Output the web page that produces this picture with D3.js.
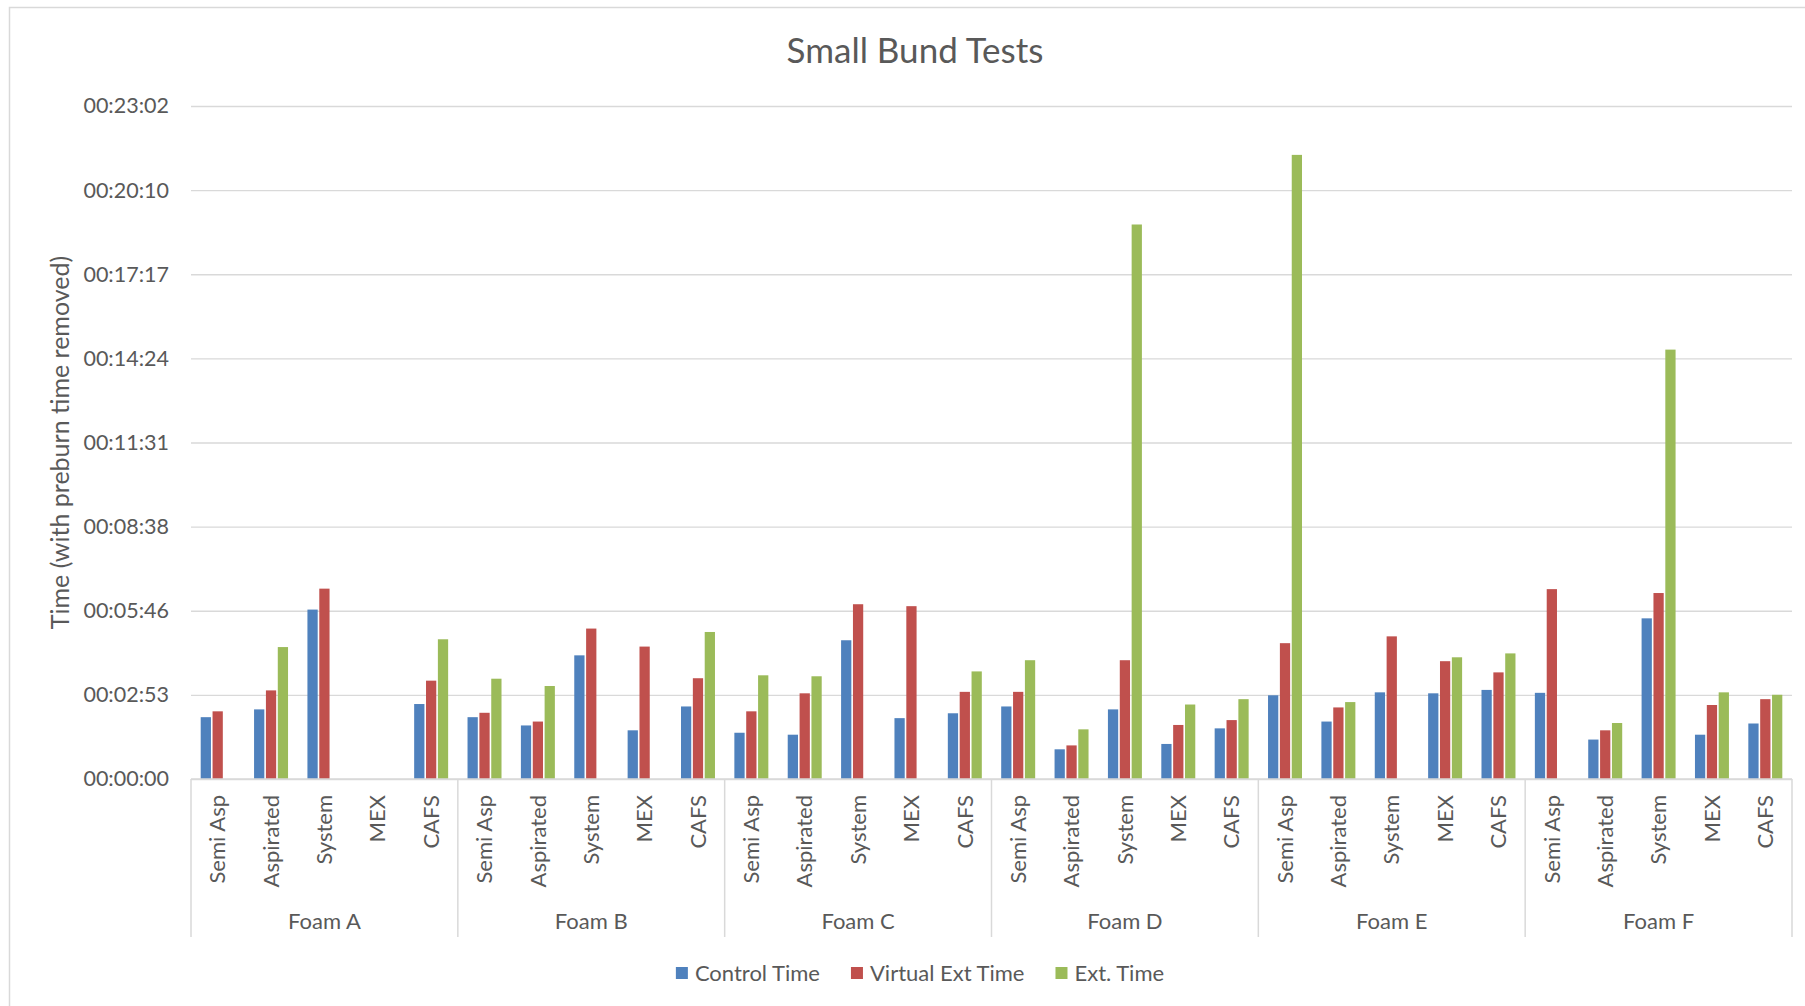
<!DOCTYPE html>
<html>
<head>
<meta charset="utf-8">
<script src="https://cdn.jsdelivr.net/npm/d3@7"></script>
<style>
  body { margin: 0; background: #fff; }
  svg text { font-family: Lato, "Open Sans", sans-serif; fill: #595959; }
</style>
</head>
<body>
<div class="chart"></div>
<script>
const foams = ['Foam A', 'Foam B', 'Foam C', 'Foam D', 'Foam E', 'Foam F'];
const methods = ['Semi Asp', 'Aspirated', 'System', 'MEX', 'CAFS'];
const seriesNames = ['Control Time', 'Virtual Ext Time', 'Ext. Time'];
const seriesColors = ['#4F81BD', '#C0504D', '#9BBB59'];

// times in seconds, foam by foam, in the order of methods (null = no bar)
const controlTime = [
  127, 143, 348, null, 154,
  127, 110, 254, 100, 149,
  95, 91, 285, 125, 135,
  149, 61, 143, 72, 104,
  172, 118, 178, 176, 183,
  177, 81, 330, 91, 114,
];
const virtualExtTime = [
  139, 182, 391, null, 202,
  136, 118, 309, 272, 207,
  139, 176, 359, 355, 179,
  179, 69, 244, 111, 121,
  279, 147, 293, 242, 219,
  390, 100, 382, 152, 164,
];
const extTime = [
  null, 271, null, null, 287,
  206, 191, null, null, 302,
  213, 211, null, null, 221,
  244, 102, 1139, 153, 164,
  1282, 158, null, 250, 258,
  null, 115, 882, 178, 173,
];

const yTickSeconds = [0, 172.8, 345.6, 518.4, 691.2, 864, 1036.8, 1209.6, 1382.4];
const yTickLabels = ['00:00:00', '00:02:53', '00:05:46', '00:08:38', '00:11:31',
  '00:14:24', '00:17:17', '00:20:10', '00:23:02'];

const width = 1805;
const height = 1006;
const plot = { left: 191, right: 1792, top: 106, bottom: 779 };
const grey = '#d9d9d9';

const svg = d3.select('.chart')
  .append('svg')
  .attr('width', width)
  .attr('height', height);

svg.append('rect')
  .attr('x', 9.5)
  .attr('y', 7.5)
  .attr('width', 1830)
  .attr('height', 1030)
  .attr('fill', '#fff')
  .attr('stroke', grey)
  .attr('stroke-width', 1.5);

const categories = foams.flatMap(f => methods.map(m => f + '|' + m));

const xScale = d3.scaleBand()
  .domain(categories)
  .range([plot.left, plot.right]);

const sScale = d3.scaleBand()
  .domain(seriesNames)
  .range([0, xScale.bandwidth()])
  .paddingInner(0)
  .paddingOuter(0.75);

const yScale = d3.scaleLinear()
  .domain([0, yTickSeconds[yTickSeconds.length - 1]])
  .range([plot.bottom, plot.top]);

// y axis with gridlines
const yAxis = d3.axisLeft(yScale)
  .tickValues(yTickSeconds)
  .tickFormat((d, i) => yTickLabels[i])
  .tickSize(-(plot.right - plot.left))
  .tickPadding(22);

svg.append('g')
  .attr('transform', `translate(${plot.left},0)`)
  .call(yAxis)
  .call(g => g.select('.domain').remove())
  .call(g => g.selectAll('.tick line').attr('stroke', grey).attr('stroke-width', 1.4))
  .call(g => g.selectAll('.tick text')
    .attr('font-family', null)
    .style('font-size', '21.5px'))
  .attr('font-family', null);

// bars
const series = [controlTime, virtualExtTime, extTime];
series.forEach((values, s) => {
  const rows = categories.map((c, i) => ({ cat: c, value: values[i] }))
    .filter(d => d.value != null);
  svg.append('g')
    .selectAll('rect')
    .data(rows)
    .enter()
    .append('rect')
    .attr('x', d => xScale(d.cat) + sScale(seriesNames[s]) + 0.8)
    .attr('width', sScale.bandwidth() - 1.6)
    .attr('y', d => yScale(d.value))
    .attr('height', d => plot.bottom - yScale(d.value))
    .attr('fill', seriesColors[s]);
});

// category axis
svg.append('line')
  .attr('x1', plot.left).attr('x2', plot.right)
  .attr('y1', plot.bottom).attr('y2', plot.bottom)
  .attr('stroke', grey).attr('stroke-width', 1.5);

const groupWidth = xScale.bandwidth() * methods.length;
svg.append('g')
  .selectAll('line')
  .data(d3.range(foams.length + 1))
  .enter()
  .append('line')
  .attr('x1', i => plot.left + i * groupWidth)
  .attr('x2', i => plot.left + i * groupWidth)
  .attr('y1', plot.bottom)
  .attr('y2', 937)
  .attr('stroke', grey)
  .attr('stroke-width', 1.5);

svg.append('g')
  .selectAll('text')
  .data(categories)
  .enter()
  .append('text')
  .attr('transform', d => `translate(${xScale(d) + xScale.bandwidth() / 2}, 795) rotate(-90)`)
  .attr('text-anchor', 'end')
  .attr('dy', '0.35em')
  .style('font-size', '22px')
  .text(d => d.split('|')[1]);

svg.append('g')
  .selectAll('text')
  .data(foams)
  .enter()
  .append('text')
  .attr('x', (d, i) => plot.left + (i + 0.5) * groupWidth)
  .attr('y', 921)
  .attr('dy', '0.35em')
  .attr('text-anchor', 'middle')
  .style('font-size', '22px')
  .text(d => d);

// axis title
svg.append('text')
  .attr('transform', `translate(60, ${(plot.top + plot.bottom) / 2}) rotate(-90)`)
  .attr('text-anchor', 'middle')
  .attr('dy', '0.35em')
  .style('font-size', '25px')
  .text('Time (with preburn time removed)');

// chart title
svg.append('text')
  .attr('x', 915)
  .attr('y', 63)
  .attr('text-anchor', 'middle')
  .style('font-size', '35px')
  .text('Small Bund Tests');

// legend
const legend = svg.append('g');
const items = legend.selectAll('g')
  .data(seriesNames)
  .enter()
  .append('g');

items.append('rect')
  .attr('width', 12)
  .attr('height', 12)
  .attr('y', 967)
  .attr('fill', (d, i) => seriesColors[i]);

items.append('text')
  .attr('x', 19)
  .attr('y', 973)
  .attr('dy', '0.35em')
  .style('font-size', '22px')
  .text(d => d);

let offset = 0;
const widths = [];
items.each(function () {
  widths.push(this.getBBox().width);
});
const totalWidth = d3.sum(widths) + 31 * (widths.length - 1);
offset = 920 - totalWidth / 2;
items.attr('transform', (d, i) => {
  const x = offset;
  offset += widths[i] + 31;
  return `translate(${x},0)`;
});
</script>
</body>
</html>
